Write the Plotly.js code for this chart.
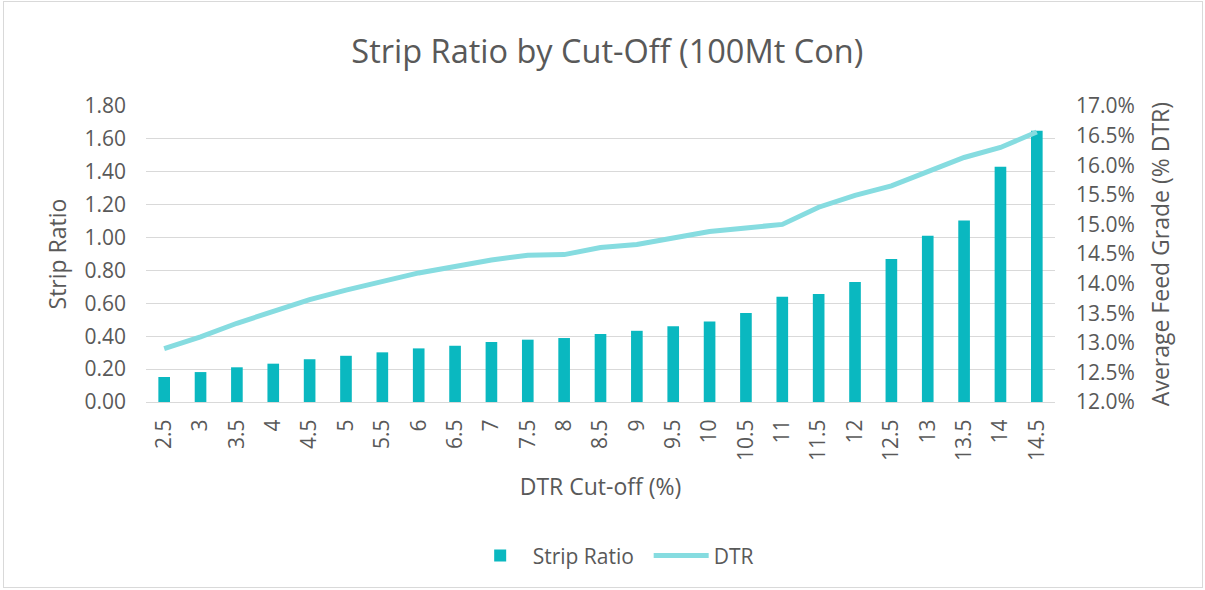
<!DOCTYPE html>
<html>
<head>
<meta charset="utf-8">
<script src="https://cdn.plot.ly/plotly-3.0.1.min.js"></script>
<style>
html,body{margin:0;padding:0;background:#fff;}
#frame{position:absolute;left:3px;top:1px;width:1198px;height:585px;border:1px solid #d9d9d9;}
#chart{position:absolute;left:0;top:0;width:1205px;height:590px;}
</style>
</head>
<body>
<div id="frame"></div>
<div id="chart"></div>
<script>
const cutoffs = ["2.5","3","3.5","4","4.5","5","5.5","6","6.5","7","7.5","8","8.5","9","9.5","10","10.5","11","11.5","12","12.5","13","13.5","14","14.5"];
const stripRatio = [0.152,0.182,0.211,0.233,0.260,0.281,0.302,0.326,0.342,0.365,0.379,0.389,0.413,0.433,0.460,0.490,0.541,0.640,0.657,0.730,0.869,1.011,1.104,1.430,1.649];
const dtrGrade = [12.90,13.10,13.33,13.54,13.73,13.89,14.04,14.18,14.29,14.40,14.48,14.49,14.61,14.66,14.77,14.88,14.94,15.00,15.29,15.49,15.65,15.88,16.13,16.30,16.56];

const font = "'Open Sans', 'Noto Sans', sans-serif";
const txt = '#595959';

const traces = [
  {type:'bar', name:'Strip Ratio', x:cutoffs, y:stripRatio, marker:{color:'#0ab8c0'}, yaxis:'y'},
  {type:'scatter', mode:'lines', name:'DTR', x:cutoffs, y:dtrGrade, line:{color:'#86dce0', width:5}, yaxis:'y2'}
];

const layout = {
  width:1205, height:590,
  paper_bgcolor:'rgba(0,0,0,0)', plot_bgcolor:'rgba(0,0,0,0)',
  margin:{l:146, r:150, t:106, b:188},
  font:{family:font, color:txt, size:21},
  title:{text:'Strip Ratio by Cut-Off (100Mt Con)', font:{size:32.5, color:txt, family:font}, x:0.504, xanchor:'center', y:0.912, yanchor:'middle', yref:'container'},
  bargap:0.68,
  showlegend:true,
  legend:{orientation:'h', x:0.553, xanchor:'center', y:-0.52, yanchor:'middle', font:{size:21, color:txt}, itemwidth:55, entrywidth:111, entrywidthmode:'pixels'},
  xaxis:{type:'category', tickangle:-90, showgrid:false, showline:true, linecolor:'#d9d9d9', linewidth:1, ticks:'', ticklabelstandoff:8,
         tickfont:{size:21, color:txt}, automargin:false,
         title:{text:'DTR Cut-off (%)', font:{size:23, color:txt}, standoff:18}},
  yaxis:{range:[0,1.8], dtick:0.2, tickformat:'.2f', showgrid:true, gridcolor:'#d9d9d9', gridwidth:1, zeroline:false, ticks:'', ticklabelstandoff:19,
         tickfont:{size:21, color:txt}, automargin:false,
         title:{text:'Strip Ratio', font:{size:23, color:txt}, standoff:11}},
  yaxis2:{overlaying:'y', side:'right', range:[12,17], dtick:0.5, tickformat:'.1f', ticksuffix:'%', showgrid:false, zeroline:false, ticks:'', ticklabelstandoff:20,
          tickfont:{size:21, color:txt}, automargin:false,
          title:{text:'Average Feed Grade (% DTR)', font:{size:23, color:txt}, standoff:18}}
};

Plotly.newPlot('chart', traces, layout, {displayModeBar:false, staticPlot:true});
</script>
</body>
</html>
